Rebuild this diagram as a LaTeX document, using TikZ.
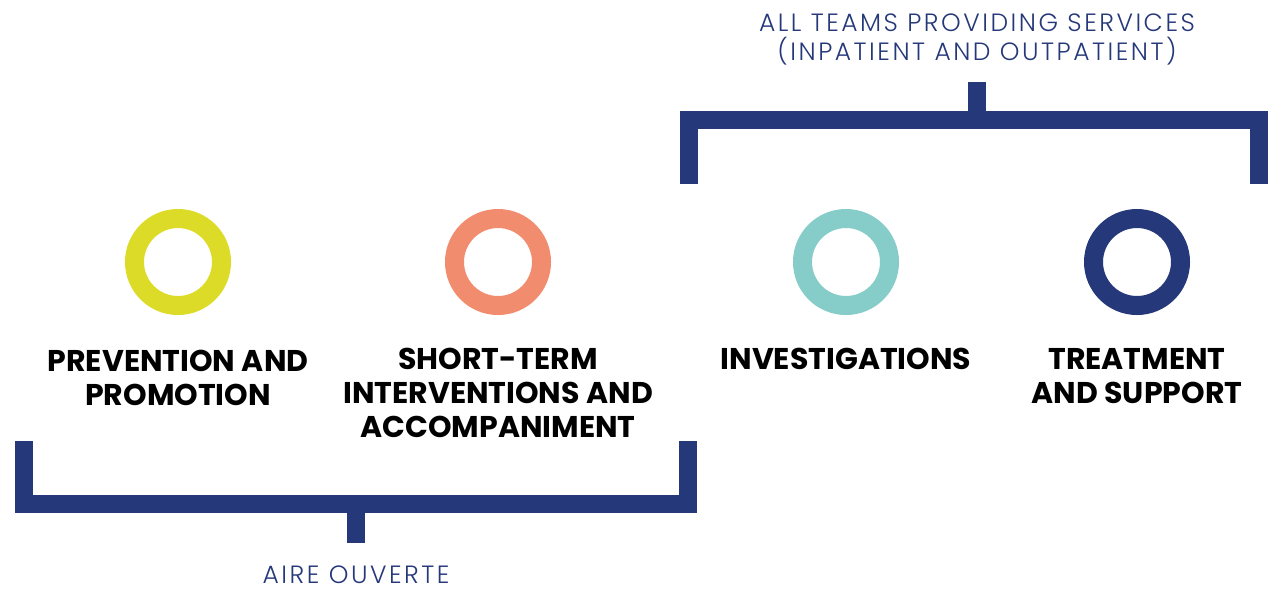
\documentclass[tikz,border=0pt]{standalone}
\usepackage{fontspec}
\setmainfont{Poppins}
\newfontfamily\thinfont[LetterSpace=10]{Poppins Light}
\usetikzlibrary{positioning}

\definecolor{navy}{HTML}{253879}
\definecolor{lime}{HTML}{DCDC28}
\definecolor{salmon}{HTML}{F28C6E}
\definecolor{aqua}{HTML}{86CCC8}

\tikzset{
	ring/.style={circle, draw=#1, line width=9.5pt, minimum size=43.5pt, inner sep=0pt},
	caption/.style={align=center, inner sep=0pt, font=\bfseries\fontsize{15}{17}\selectfont},
	group/.style={align=center, inner sep=0pt, text=navy, font=\thinfont\fontsize{12.5}{14.5}\selectfont},
	bracket/.style={draw=navy, line width=9pt, line join=miter, line cap=butt}
}

\begin{document}
\begin{tikzpicture}[x=0.5pt, y=-0.5pt]
	\useasboundingbox (0,0) rectangle (1268,591);

	\foreach \name/\x/\col in {prev/178/lime, short/498/salmon, inv/846/aqua, treat/1137/navy}
		\node[ring=\col] (\name) at (\x,262) {};

	\node[caption, anchor=north] (prevtxt) at (178,350) {PREVENTION AND\\PROMOTION};
	\node[caption, anchor=north] (shorttxt) at (498,348) {SHORT-TERM\\INTERVENTIONS AND\\ACCOMPANIMENT};
	\node[caption, anchor=north] (invtxt) at (846,348) {INVESTIGATIONS};
	\node[caption, anchor=north] (treattxt) at (1137,348) {TREATMENT\\AND SUPPORT};

	% brackets
	\draw[bracket] (689,184) |- (1259,120) -- (1259,184);
	\draw[bracket] (977,120) -- (977,82);
	\draw[bracket] (24,441) |- (688,504) -- (688,441);
	\draw[bracket] (356,504) -- (356,543);

	\node[group] (teams) at (977,39) {ALL TEAMS PROVIDING SERVICES\\(INPATIENT AND OUTPATIENT)};
	\node[group] (aire) at (356,575) {AIRE OUVERTE};
\end{tikzpicture}
\end{document}
